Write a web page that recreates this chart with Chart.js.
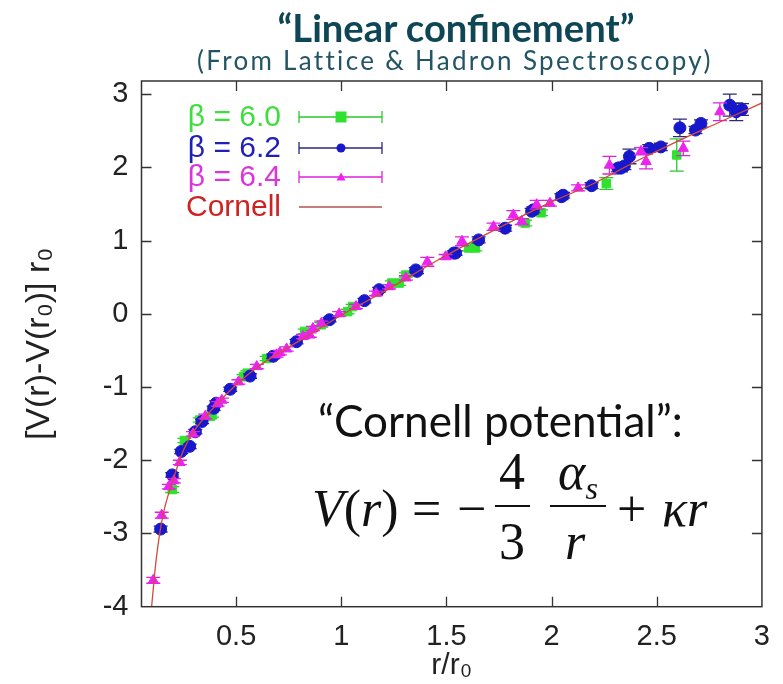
<!DOCTYPE html>
<html>
<head>
<meta charset="utf-8">
<script src="https://cdn.jsdelivr.net/npm/chart.js@4.4.1/dist/chart.umd.min.js"></script>
<style>
  html, body { margin:0; padding:0; background:#fff; }
  #wrap { position:relative; width:783px; height:684px; overflow:hidden; }
  #c { position:absolute; left:0; top:0; }
  .ov { position:absolute; white-space:nowrap; line-height:1; }
  #title { font-family:Lato, "Open Sans", sans-serif; font-weight:bold; color:#0f4656; font-size:30px; }
  #subtitle { font-family:Lato, "Open Sans", sans-serif; color:#245565; font-size:26px; }
  #cornell { font-family:Lato, "Open Sans", sans-serif; font-weight:400; color:#111; font-size:38px; }
  .fp { position:absolute; white-space:nowrap; line-height:1; font-family:"Liberation Serif", "DejaVu Serif", serif; font-size:52px; color:#111; }
  .bar { position:absolute; height:2px; background:#111; }
  sub { font-size:0.62em; vertical-align:-0.3em; }
</style>
</head>
<body>
<div id="wrap">
  <canvas id="c" width="783" height="684"></canvas>
  <div id="title" class="ov">“Linear confinement”</div>
  <div id="subtitle" class="ov">(From Lattice &amp; Hadron Spectroscopy)</div>
  <div id="cornell" class="ov">“Cornell potential”:</div>
  <div id="formula">
    <span class="fp" data-x="312" data-b="527"><i>V</i>(<i>r</i>)</span>
    <span class="fp" data-x="412" data-b="527">=</span>
    <span class="fp" data-x="457" data-b="527">−</span>
    <span class="fp" data-c="512" data-b="490">4</span>
    <span class="bar" style="left:495px; width:35px; top:505px;"></span>
    <span class="fp" data-c="512" data-b="560">3</span>
    <span class="fp" data-c="578" data-b="490"><i>α<sub>s</sub></i></span>
    <span class="bar" style="left:550px; width:56px; top:505px;"></span>
    <span class="fp" data-c="575" data-b="560"><i>r</i></span>
    <span class="fp" data-x="617" data-b="527">+</span>
    <span class="fp" data-x="662" data-b="527"><i>κr</i></span>
  </div>
</div>
<script>
// ---------------- data ----------------
const xTicks = [0.5, 1, 1.5, 2, 2.5, 3];
const xTickLabels = ['0.5', '1', '1.5', '2', '2.5', '3'];
const yTicks = [-4, -3, -2, -1, 0, 1, 2, 3];
const yTickLabels = ['-4', '-3', '-2', '-1', '0', '1', '2', '3'];

// beta = 6.0 (green squares)
const b60_r   = [0.196, 0.254, 0.327, 0.377, 0.385, 0.535, 0.553, 0.645, 0.826, 0.905, 1.03, 1.054, 1.24, 1.275, 1.307, 1.605, 1.637, 1.874, 1.95, 2.26, 2.595];
const b60_V   = [-2.40, -1.73, -1.45, -1.40, -1.38, -0.86, -0.81, -0.61, -0.24, -0.15, 0.03, 0.10, 0.42, 0.42, 0.53, 0.90, 0.90, 1.24, 1.38, 1.78, 2.17];
const b60_err = [0.04, 0.03, 0.03, 0.03, 0.03, 0.03, 0.03, 0.03, 0.03, 0.03, 0.03, 0.03, 0.03, 0.03, 0.03, 0.04, 0.04, 0.04, 0.04, 0.08, 0.22];

// beta = 6.2 (blue circles)
const b62_r   = [0.141, 0.196, 0.239, 0.279, 0.306, 0.338, 0.393, 0.405, 0.472, 0.566, 0.676, 0.787, 0.944, 1.11, 1.18, 1.354, 1.36, 1.535, 1.543, 1.653, 1.779, 1.905, 1.913, 2.047, 2.055, 2.19, 2.315, 2.33, 2.346, 2.37, 2.464, 2.519, 2.61, 2.684, 2.71, 2.847, 2.878, 2.905];
const b62_V   = [-2.94, -2.20, -1.88, -1.81, -1.61, -1.47, -1.29, -1.22, -1.03, -0.85, -0.58, -0.38, -0.08, 0.18, 0.33, 0.60, 0.58, 0.83, 0.83, 1.01, 1.17, 1.40, 1.42, 1.60, 1.62, 1.75, 1.99, 1.99, 2.02, 2.15, 2.26, 2.28, 2.54, 2.51, 2.60, 2.85, 2.76, 2.79];
const b62_err = [0.04, 0.03, 0.03, 0.03, 0.03, 0.03, 0.03, 0.03, 0.03, 0.03, 0.03, 0.03, 0.03, 0.03, 0.03, 0.03, 0.03, 0.03, 0.03, 0.04, 0.04, 0.04, 0.04, 0.04, 0.04, 0.04, 0.05, 0.05, 0.05, 0.10, 0.05, 0.05, 0.12, 0.05, 0.05, 0.15, 0.12, 0.08];

// beta = 6.4 (magenta triangles)
const b64_r   = [0.106, 0.146, 0.180, 0.204, 0.232, 0.295, 0.353, 0.412, 0.432, 0.511, 0.598, 0.692, 0.708, 0.74, 0.818, 0.85, 0.865, 0.905, 0.99, 1.07, 1.165, 1.228, 1.307, 1.409, 1.496, 1.574, 1.724, 1.818, 1.858, 1.929, 1.992, 2.126, 2.275, 2.425, 2.449, 2.626, 2.8];
const b64_V   = [-3.64, -2.75, -2.36, -2.28, -2.03, -1.64, -1.40, -1.23, -1.18, -0.93, -0.72, -0.56, -0.53, -0.48, -0.31, -0.29, -0.20, -0.13, 0.00, 0.10, 0.28, 0.37, 0.49, 0.71, 0.78, 0.99, 1.19, 1.35, 1.26, 1.49, 1.51, 1.72, 2.03, 2.22, 2.08, 2.26, 2.76];
const b64_err = [0.04, 0.04, 0.03, 0.03, 0.03, 0.03, 0.03, 0.03, 0.03, 0.03, 0.03, 0.03, 0.03, 0.03, 0.03, 0.03, 0.03, 0.03, 0.03, 0.03, 0.03, 0.03, 0.03, 0.06, 0.03, 0.06, 0.05, 0.06, 0.04, 0.06, 0.04, 0.04, 0.12, 0.05, 0.10, 0.10, 0.12];

// Cornell curve
const cornell_r = [0.098, 0.12, 0.15, 0.2, 0.25, 0.3, 0.4, 0.5, 0.6, 0.7, 0.8, 1.0, 1.2, 1.5, 1.8, 2.0, 2.2, 2.4, 2.6, 2.8, 3.0];
const cornell_V = [-4.0, -3.35, -2.78, -2.27, -1.86, -1.60, -1.26, -0.97, -0.73, -0.54, -0.37, -0.02, 0.30, 0.80, 1.25, 1.53, 1.78, 2.08, 2.36, 2.62, 2.88];

const legendLabels = ['β = 6.0', 'β = 6.2', 'β = 6.4', 'Cornell'];

// ---------------- styles ----------------
const GREEN = '#2fe22f', BLUE = '#1717cc', MAGENTA = '#ee22ee', LINE = '#d24a3a';
const ERRCOL = ['#2bc92b', '#2a2a78', '#dd22dd'];
const TXTCOL = ['#3ede3e', '#2020b8', '#dd33dd', '#cc2222'];
const SANS = '"Liberation Sans", Arial, sans-serif';

const pts = (xs, ys) => xs.map((x, i) => ({ x: x, y: ys[i] }));

// ---------------- plugins ----------------
const errorBars = {
  id: 'errorBars',
  beforeDatasetDraw(chart, args) {
    const ds = chart.data.datasets[args.index];
    if (!ds.errors) return;
    const xs = chart.scales.x, ys = chart.scales.y, ctx = chart.ctx;
    ctx.save();
    ctx.strokeStyle = ds.errorColor;
    ctx.lineWidth = 1.3;
    ds.data.forEach((p, i) => {
      const e = ds.errors[i];
      const px = xs.getPixelForValue(p.x);
      const y1 = ys.getPixelForValue(p.y - e), y2 = ys.getPixelForValue(p.y + e);
      ctx.beginPath();
      ctx.moveTo(px, y1); ctx.lineTo(px, y2);
      ctx.moveTo(px - 7, y1); ctx.lineTo(px + 7, y1);
      ctx.moveTo(px - 7, y2); ctx.lineTo(px + 7, y2);
      ctx.stroke();
    });
    ctx.restore();
  }
};

const frame = {
  id: 'frame',
  afterDatasetsDraw(chart) {
    const { ctx, chartArea: a } = chart;
    const xs = chart.scales.x, ys = chart.scales.y;
    ctx.save();
    ctx.strokeStyle = '#333';
    ctx.lineWidth = 1.5;
    ctx.strokeRect(a.left, a.top, a.right - a.left, a.bottom - a.top);
    ctx.lineWidth = 1.3;
    ctx.beginPath();
    xTicks.forEach(v => {
      const px = Math.round(xs.getPixelForValue(v)) + 0.5;
      if (px > a.right - 2) return;
      ctx.moveTo(px, a.bottom); ctx.lineTo(px, a.bottom - 10);
      ctx.moveTo(px, a.top); ctx.lineTo(px, a.top + 10);
    });
    yTicks.forEach(v => {
      const py = Math.round(ys.getPixelForValue(v)) + 0.5;
      if (py > a.bottom - 2) return;
      ctx.moveTo(a.left, py); ctx.lineTo(a.left + 10, py);
      ctx.moveTo(a.right, py); ctx.lineTo(a.right - 10, py);
    });
    ctx.stroke();
    ctx.restore();
  }
};

const legendBox = {
  id: 'legendBox',
  afterDraw(chart) {
    const ctx = chart.ctx;
    const rows = [117, 148, 177, 207];
    const textRight = 281, x0 = 299, x1 = 382, xm = 341;
    ctx.save();
    ctx.font = '30px ' + SANS;
    ctx.textAlign = 'right';
    ctx.textBaseline = 'middle';
    rows.forEach((y, i) => {
      ctx.fillStyle = TXTCOL[i];
      ctx.fillText(legendLabels[i], textRight, y + 1);
      if (i < 3) {
        ctx.strokeStyle = ERRCOL[i];
        ctx.lineWidth = 1.3;
        ctx.beginPath();
        ctx.moveTo(x0, y); ctx.lineTo(x1, y);
        ctx.moveTo(x0, y - 6); ctx.lineTo(x0, y + 6);
        ctx.moveTo(x1, y - 6); ctx.lineTo(x1, y + 6);
        ctx.stroke();
        ctx.fillStyle = [GREEN, BLUE, MAGENTA][i];
        ctx.beginPath();
        if (i === 0) ctx.rect(xm - 5.5, y - 5.5, 11, 11);
        else if (i === 1) ctx.arc(xm, y, 4.5, 0, Math.PI * 2);
        else { ctx.moveTo(xm, y - 4.5); ctx.lineTo(xm + 4.5, y + 3.5); ctx.lineTo(xm - 4.5, y + 3.5); ctx.closePath(); }
        ctx.fill();
      } else {
        ctx.strokeStyle = '#b85050';
        ctx.lineWidth = 1.6;
        ctx.beginPath(); ctx.moveTo(x0, y); ctx.lineTo(x1, y); ctx.stroke();
      }
    });
    ctx.restore();
  }
};

// ---------------- chart ----------------
const tickFont = { family: SANS, size: 29 };
new Chart(document.getElementById('c'), {
  type: 'scatter',
  data: {
    datasets: [
      { label: legendLabels[3], type: 'line', data: pts(cornell_r, cornell_V), borderColor: LINE, borderWidth: 1.3,
        pointRadius: 0, showLine: true, fill: false, cubicInterpolationMode: 'monotone', order: 0 },
      { label: legendLabels[2], data: pts(b64_r, b64_V), errors: b64_err, errorColor: ERRCOL[2],
        pointStyle: 'triangle', pointRadius: 6, backgroundColor: MAGENTA, borderColor: MAGENTA, borderWidth: 1, order: 1 },
      { label: legendLabels[1], data: pts(b62_r, b62_V), errors: b62_err, errorColor: ERRCOL[1],
        pointStyle: 'circle', pointRadius: 6, backgroundColor: BLUE, borderColor: BLUE, borderWidth: 1, order: 2 },
      { label: legendLabels[0], data: pts(b60_r, b60_V), errors: b60_err, errorColor: ERRCOL[0],
        pointStyle: 'rect', pointRadius: 6, backgroundColor: GREEN, borderColor: GREEN, borderWidth: 1, order: 3 }
    ]
  },
  options: {
    responsive: false,
    animation: false,
    layout: { padding: { top: 81, right: 18, left: 0, bottom: 0 } },
    plugins: { legend: { display: false }, tooltip: { enabled: false } },
    scales: {
      x: {
        type: 'linear', min: 0.05, max: 3,
        afterBuildTicks: s => { s.ticks = xTicks.map(v => ({ value: v })); },
        afterFit: s => { s.height = 77.3; },
        grid: { display: false, drawTicks: false },
        border: { display: false },
        ticks: { font: tickFont, color: '#222', padding: 13, maxRotation: 0,
                 callback: (v) => xTickLabels[xTicks.indexOf(v)] },
        title: { display: true, text: 'r/r₀', font: { family: SANS, size: 30 },
                 color: '#222', padding: { top: 0, bottom: 0 } }
      },
      y: {
        type: 'linear', min: -4, max: 3.18,
        afterBuildTicks: s => { s.ticks = yTicks.map(v => ({ value: v })); },
        afterFit: s => { s.width = 141.5; },
        grid: { display: false, drawTicks: false },
        border: { display: false },
        ticks: { font: tickFont, color: '#222', padding: 13,
                 callback: (v) => yTickLabels[yTicks.indexOf(v)] },
        title: { display: true, text: '[V(r)-V(r₀)] r₀', font: { family: SANS, size: 34 },
                 color: '#222', padding: { top: 19, bottom: 0 } }
      }
    }
  },
  plugins: [errorBars, frame, legendBox]
});

// ---------------- overlay text placement ----------------
function fitFont(el, w) {
  const fs = parseFloat(getComputedStyle(el).fontSize);
  const cw = el.getBoundingClientRect().width;
  el.style.fontSize = (fs * w / cw) + 'px';
}
function fitSpacing(el, w) {
  const n = el.textContent.length;
  const cw = el.getBoundingClientRect().width;
  el.style.letterSpacing = ((w - cw) / n) + 'px';
}
const t = document.getElementById('title');
fitFont(t, 357); t.style.left = (456 - t.getBoundingClientRect().width / 2) + 'px'; t.style.top = '8px';
const st = document.getElementById('subtitle');
fitSpacing(st, 515); st.style.left = '197px'; st.style.top = '47px';
const cp = document.getElementById('cornell');
fitFont(cp, 365); cp.style.left = '318px'; cp.style.top = '398px';

// formula pieces: baseline of Liberation Serif with line-height 1 is ~0.8375em below the box top
document.querySelectorAll('.fp').forEach(el => {
  const fs = parseFloat(getComputedStyle(el).fontSize);
  const top = parseFloat(el.dataset.b) - 0.8375 * fs;
  el.style.top = top + 'px';
  if (el.dataset.x) el.style.left = el.dataset.x + 'px';
  else el.style.left = (parseFloat(el.dataset.c) - el.getBoundingClientRect().width / 2) + 'px';
});
</script>
</body>
</html>
